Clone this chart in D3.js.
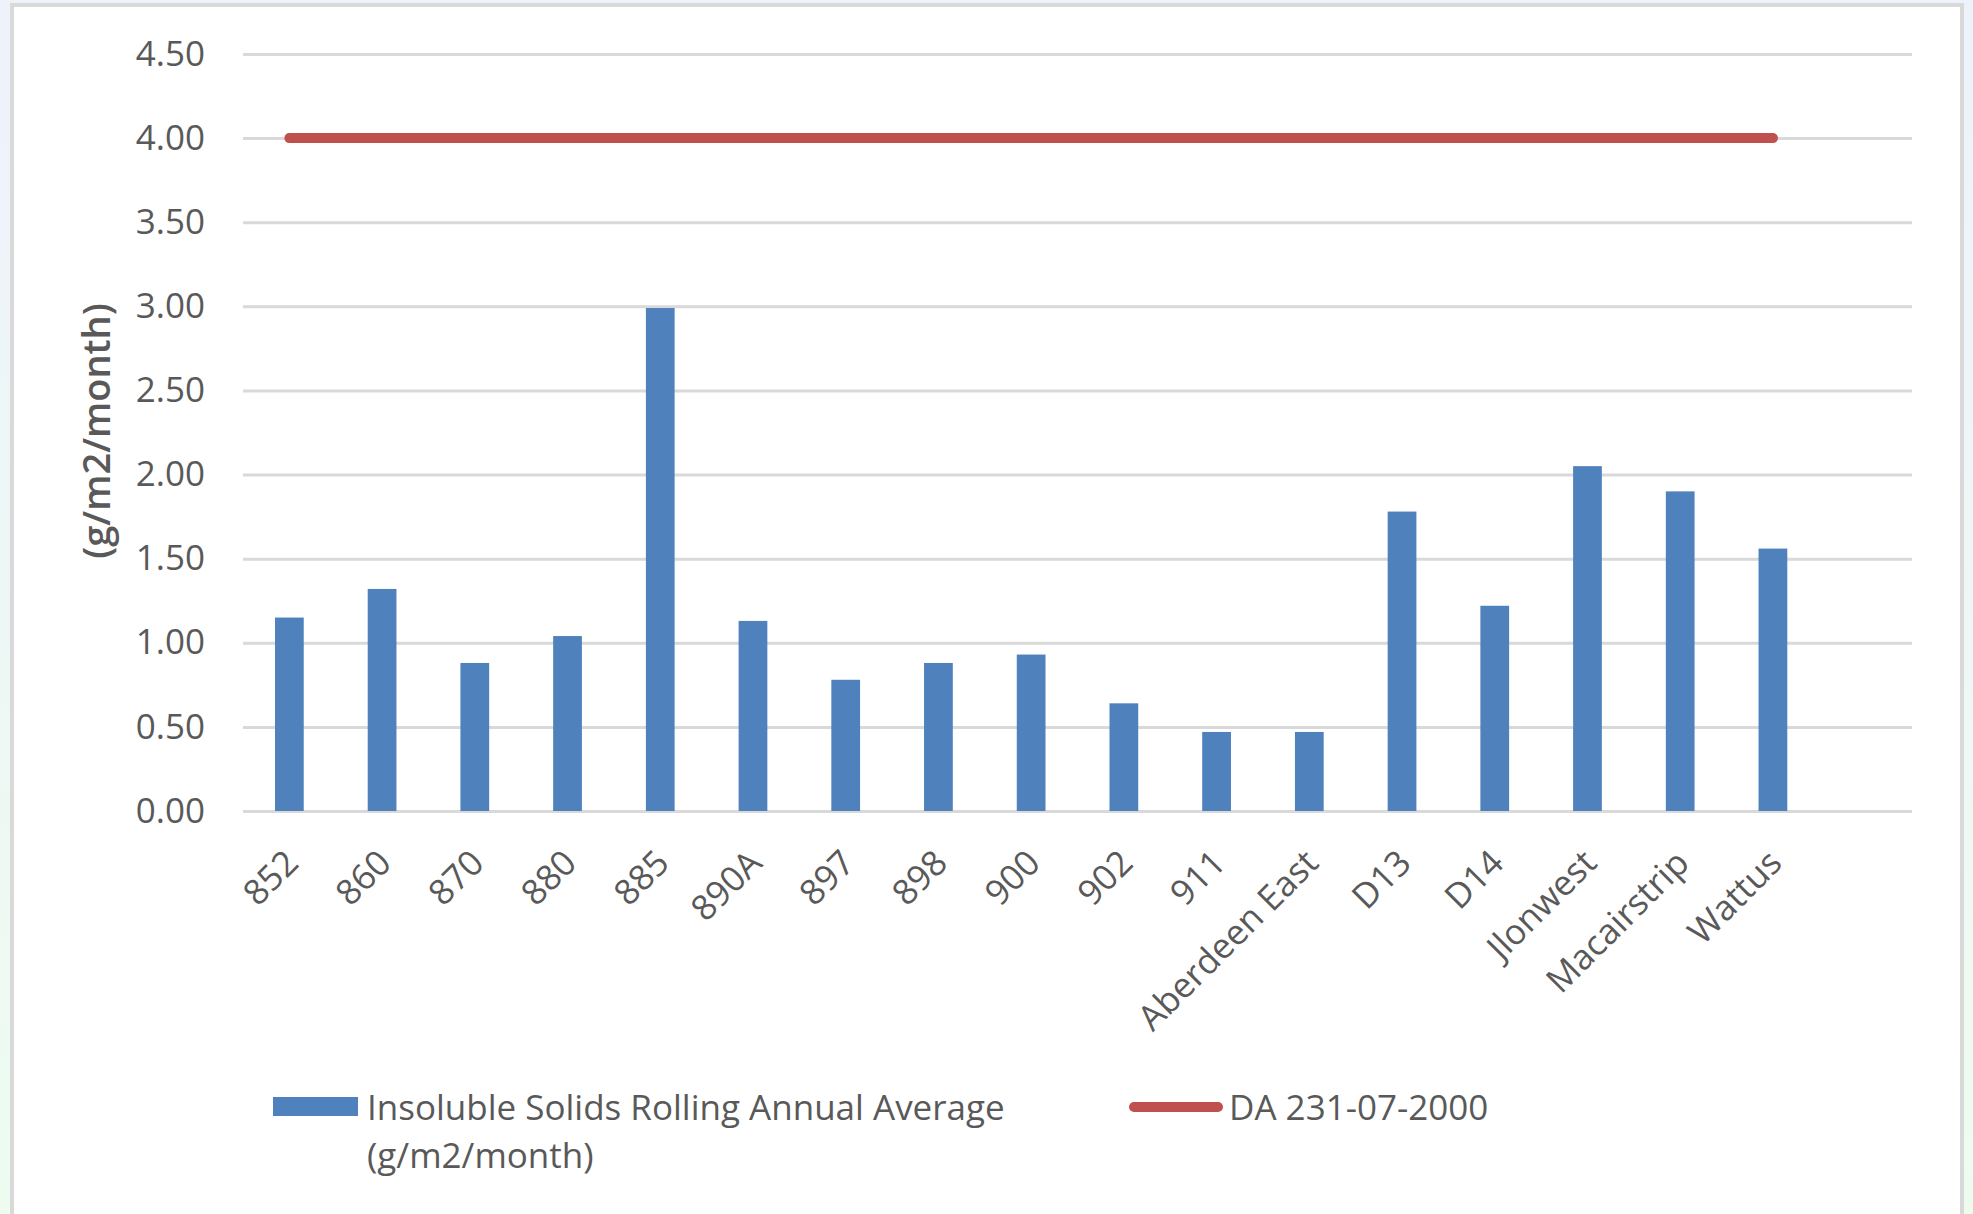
<!DOCTYPE html>
<html>
<head>
<meta charset="utf-8">
<script src="https://cdn.jsdelivr.net/npm/d3@7"></script>
<style>
  html, body { margin: 0; padding: 0; }
  body { width: 1973px; height: 1214px; overflow: hidden;
         background: linear-gradient(#eef2fb, #eefcf0); }
  svg { display: block; }
  text { font-family: "Open Sans", sans-serif; fill: #595959; }
</style>
</head>
<body>
<svg></svg>
<script>
const sites = ["852", "860", "870", "880", "885", "890A", "897", "898", "900", "902",
               "911", "Aberdeen East", "D13", "D14", "Jlonwest", "Macairstrip", "Wattus"];
const solids = [1.15, 1.32, 0.88, 1.04, 2.99, 1.13, 0.78, 0.88, 0.93, 0.64,
                0.47, 0.47, 1.78, 1.22, 2.05, 1.90, 1.56];
const limit = [4, 4, 4, 4, 4, 4, 4, 4, 4, 4, 4, 4, 4, 4, 4, 4, 4];
const yTicks = [0, 0.5, 1, 1.5, 2, 2.5, 3, 3.5, 4, 4.5];
const barName = "Insoluble Solids Rolling Annual Average";
const barName2 = "(g/m2/month)";
const lineName = "DA 231-07-2000";
const yTitle = "(g/m2/month)";

let width = 1973;
let height = 1214;

let plotLeft = 243;
let plotRight = 1912;
let plotTop = 54;
let plotBottom = 811;

let svg = d3.select("svg")
    .attr("width", width)
    .attr("height", height);

// chart frame
svg.append("rect")
    .attr("x", 12)
    .attr("y", 5)
    .attr("width", 1950)
    .attr("height", 1300)
    .attr("fill", "#ffffff")
    .attr("stroke", "#d9d9d9")
    .attr("stroke-width", 4);

// one empty slot at the end, like the original
let xScale = d3.scaleBand()
    .domain(sites.concat([" "]))
    .range([plotLeft, plotRight])
    .paddingInner(0.69)
    .paddingOuter(0.345);

let yScale = d3.scaleLinear()
    .domain([0, 4.5])
    .range([plotBottom, plotTop]);

// gridlines + y labels
let yAxis = d3.axisLeft(yScale)
    .tickValues(yTicks)
    .tickFormat(d3.format(".2f"))
    .tickSize(-(plotRight - plotLeft))
    .tickPadding(38);

let gy = svg.append("g")
    .attr("transform", "translate(" + plotLeft + ",0)")
    .call(yAxis);
gy.select(".domain").remove();
gy.selectAll(".tick line")
    .attr("stroke", "#d9d9d9")
    .attr("stroke-width", 3);
gy.selectAll(".tick text")
    .style("font-size", "35px")
    .attr("fill", "#595959");

// bars
svg.selectAll(".bar")
    .data(sites)
    .enter()
    .append("rect")
    .attr("class", "bar")
    .attr("x", (d) => xScale(d))
    .attr("width", xScale.bandwidth())
    .attr("y", (d, i) => yScale(solids[i]))
    .attr("height", (d, i) => yScale(0) - yScale(solids[i]))
    .attr("fill", "#4f81bd");

// limit line
let line = d3.line()
    .x((d, i) => xScale(sites[i]) + xScale.bandwidth() / 2)
    .y((d) => yScale(d));

svg.append("path")
    .datum(limit)
    .attr("d", line)
    .attr("fill", "none")
    .attr("stroke", "#c0504d")
    .attr("stroke-width", 10)
    .attr("stroke-linecap", "round");

// x labels
let xAxis = d3.axisBottom(xScale).tickSize(0).tickPadding(0);
let gx = svg.append("g")
    .attr("transform", "translate(0," + plotBottom + ")")
    .call(xAxis);
gx.select(".domain").remove();
gx.selectAll(".tick text")
    .style("font-size", "35px")
    .attr("fill", "#595959")
    .attr("text-anchor", "end")
    .attr("dy", null)
    .attr("y", 0)
    .attr("transform", "translate(11,54) rotate(-45)");

// y title
svg.append("text")
    .attr("transform", "translate(110," + (431) + ") rotate(-90)")
    .attr("text-anchor", "middle")
    .style("font-size", "38px")
    .style("font-weight", 600)
    .text(yTitle);

// legend
svg.append("rect")
    .attr("x", 273)
    .attr("y", 1097)
    .attr("width", 85)
    .attr("height", 19)
    .attr("fill", "#4f81bd");

svg.append("text")
    .attr("x", 367)
    .attr("y", 1120)
    .style("font-size", "35px")
    .text(barName);

svg.append("text")
    .attr("x", 367)
    .attr("y", 1168)
    .style("font-size", "35px")
    .text(barName2);

svg.append("line")
    .attr("x1", 1134)
    .attr("x2", 1218)
    .attr("y1", 1107)
    .attr("y2", 1107)
    .attr("stroke", "#c0504d")
    .attr("stroke-width", 10)
    .attr("stroke-linecap", "round");

svg.append("text")
    .attr("x", 1229)
    .attr("y", 1120)
    .style("font-size", "35px")
    .text(lineName);
</script>
</body>
</html>
